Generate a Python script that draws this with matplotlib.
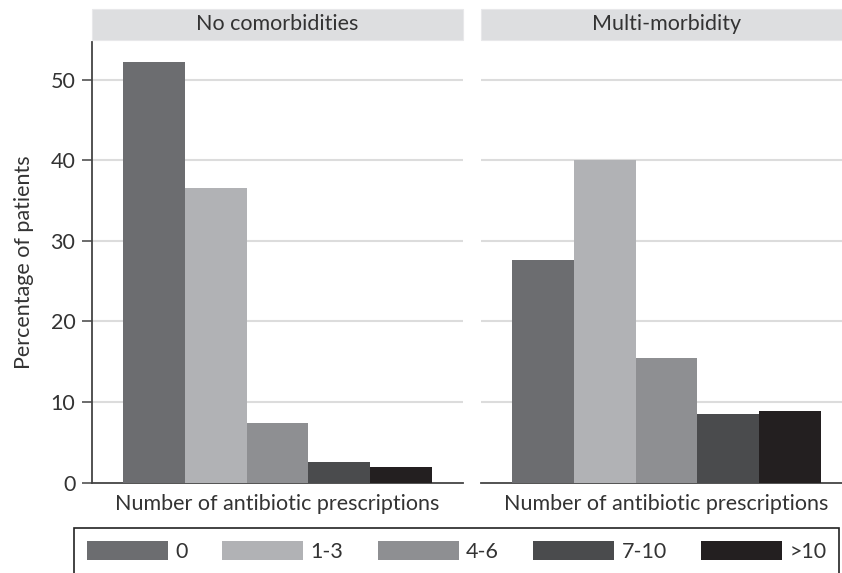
import matplotlib
matplotlib.use("Agg")
import matplotlib.pyplot as plt
from matplotlib.patches import Patch, Rectangle

plt.rcParams['font.family'] = ['Lato', 'DejaVu Sans']

# data
categories = ['0', '1-3', '4-6', '7-10', '>10']
panels = ['No comorbidities', 'Multi-morbidity']
no_comorb = [52.2, 36.5, 7.35, 2.55, 1.9]
multi_morb = [27.6, 40.0, 15.45, 8.5, 8.85]
yticks = [0, 10, 20, 30, 40, 50]

bar_colors = ['#6c6d70', '#b1b2b5', '#8e8f92', '#4a4b4d', '#231f20']
text_col = '#333333'
grid_col = '#dcdcdc'
strip_col = '#dddee0'
fs = 15.5

W, H = 842, 573
fig = plt.figure(figsize=(W / 100, H / 100), dpi=100)

ax_bottom = 1 - 482.6 / H
ax_height = (482.6 - 42) / H
ax_w = 371 / W
lefts = [92 / W, 481 / W]
ymax = (482.6 - 42) / 8.06

axes = []
for k, (title, vals) in enumerate(zip(panels, [no_comorb, multi_morb])):
    ax = fig.add_axes([lefts[k], ax_bottom, ax_w, ax_height])
    x = range(len(categories))
    ax.bar(x, vals, width=1.0, color=bar_colors, zorder=3)
    ax.set_xlim(-1, 5)
    ax.set_ylim(0, ymax)
    ax.set_yticks(yticks)
    for yv in yticks[1:]:
        ax.axhline(yv, color=grid_col, lw=1.5, zorder=1)
    for s in ['top', 'right']:
        ax.spines[s].set_visible(False)
    ax.spines['bottom'].set_color('#444444')
    ax.spines['bottom'].set_linewidth(1.3)
    ax.set_xticks([])
    ax.set_xlabel('Number of antibiotic prescriptions', fontsize=fs,
                  color=text_col, labelpad=8)
    if k == 0:
        ax.spines['left'].set_color('#444444')
        ax.spines['left'].set_linewidth(1.3)
        ax.tick_params(axis='y', length=7, width=1.1, color='#444444',
                       labelsize=fs, labelcolor=text_col, pad=5)
        ax.set_ylabel('Percentage of patients', fontsize=fs,
                      color=text_col, labelpad=12)
    else:
        ax.spines['left'].set_visible(False)
        ax.tick_params(axis='y', left=False, labelleft=False)
    # strip header
    sh = 31 / (482.6 - 42)
    ax.add_patch(Rectangle((0, 1.0 + 2 / 440.6), 1, sh, transform=ax.transAxes,
                           facecolor=strip_col, edgecolor='#e8e8ea', lw=0.8,
                           clip_on=False, zorder=5))
    ax.text(0.5, 1.0 + 2 / 440.6 + sh / 2, title, transform=ax.transAxes,
            ha='center', va='center', fontsize=fs, color=text_col, zorder=6)
    axes.append(ax)

handles = [Patch(facecolor=c, edgecolor='none') for c in bar_colors]
leg = fig.legend(handles, categories, loc='upper left',
                 bbox_to_anchor=(74 / W, 1 - 528 / H), ncol=5,
                 fontsize=fs, frameon=True, fancybox=False,
                 edgecolor='#222222', framealpha=1,
                 handlelength=3.77, handleheight=1.0, handletextpad=0.33,
                 columnspacing=1.6, borderpad=0.6, borderaxespad=0)
leg.get_frame().set_linewidth(1.2)
for t in leg.get_texts():
    t.set_color(text_col)

fig.savefig('out.png', dpi=100)
